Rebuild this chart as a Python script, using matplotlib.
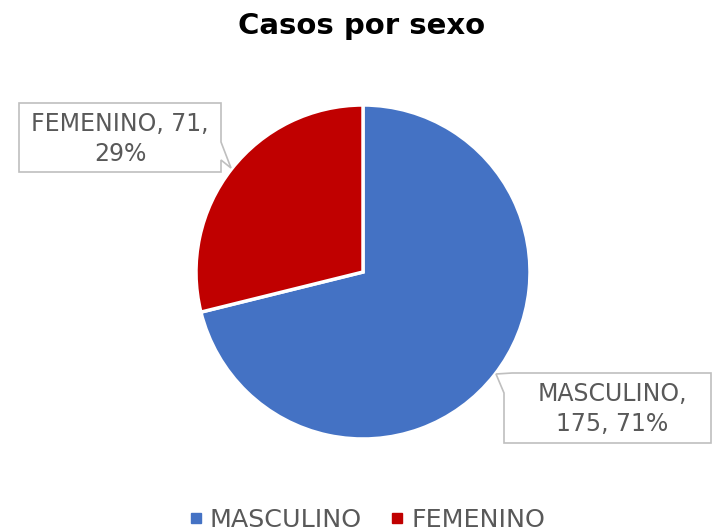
import matplotlib.pyplot as plt
from matplotlib.lines import Line2D
from matplotlib.patches import Polygon

# data
labels = ["MASCULINO", "FEMENINO"]
values = [175, 71]
colors = ["#4472C4", "#C00000"]

W, H = 712, 532
cx, cy, r = 363, 272, 167  # pie centre / radius in pixels (top-left origin)

plt.rcParams['font.family'] = ['DejaVu Sans']
fig = plt.figure(figsize=(W / 100, H / 100), dpi=100)
ax = fig.add_axes([(cx - r) / W, (H - cy - r) / H, 2 * r / W, 2 * r / H])

ax.pie(values, colors=colors, startangle=90, counterclock=False, radius=1,
       wedgeprops=dict(edgecolor="white", linewidth=2.5))
ax.set_xlim(-1, 1)
ax.set_ylim(-1, 1)
ax.axis("off")


def px(x, y):
    # pixel position -> data coordinates of the pie axes
    return ((x - cx) / r, (cy - y) / r)


total = sum(values)
gray = "#595959"

# callout boxes: (text centre, outline polygon in pixels), same order as labels
callouts = [
    ((612, 409), [(504, 443), (504, 393), (496, 374), (512, 373), (711, 373),
                  (711, 443)]),
    ((120, 139), [(19, 103), (221, 103), (221, 142), (231, 168), (221, 160),
                  (221, 172), (19, 172)]),
]
for i, (lab, v) in enumerate(zip(labels, values)):
    pct = round(v / total * 100)
    (tx, ty), poly = callouts[i]
    if i == 1:
        s = "{}, {},\n{}%".format(lab, v, pct)
    else:
        s = "{},\n{}, {}%".format(lab, v, pct)
    ax.add_patch(Polygon([px(*p) for p in poly], closed=True, facecolor="white",
                         edgecolor="#BFBFBF", linewidth=1.2, clip_on=False))
    ax.text(*px(tx, ty), s, ha="center", va="center", fontsize=17,
            color=gray, linespacing=1.3, clip_on=False)

fig.text(362 / W, 1 - 26 / H, "Casos por sexo", ha="center", va="center",
         fontsize=21, fontweight="bold", color="black")

handles = [Line2D([], [], marker="s", linestyle="none", markersize=7,
                  markerfacecolor=c, markeredgecolor=c) for c in colors]
leg = fig.legend(handles, labels, loc="center", bbox_to_anchor=(364 / W, 1 - 520 / H),
                 ncol=2, frameon=False, fontsize=18.3, handletextpad=0.05,
                 columnspacing=0.9, handlelength=1.0)
for t in leg.get_texts():
    t.set_color(gray)

fig.savefig("out.png", dpi=100)
